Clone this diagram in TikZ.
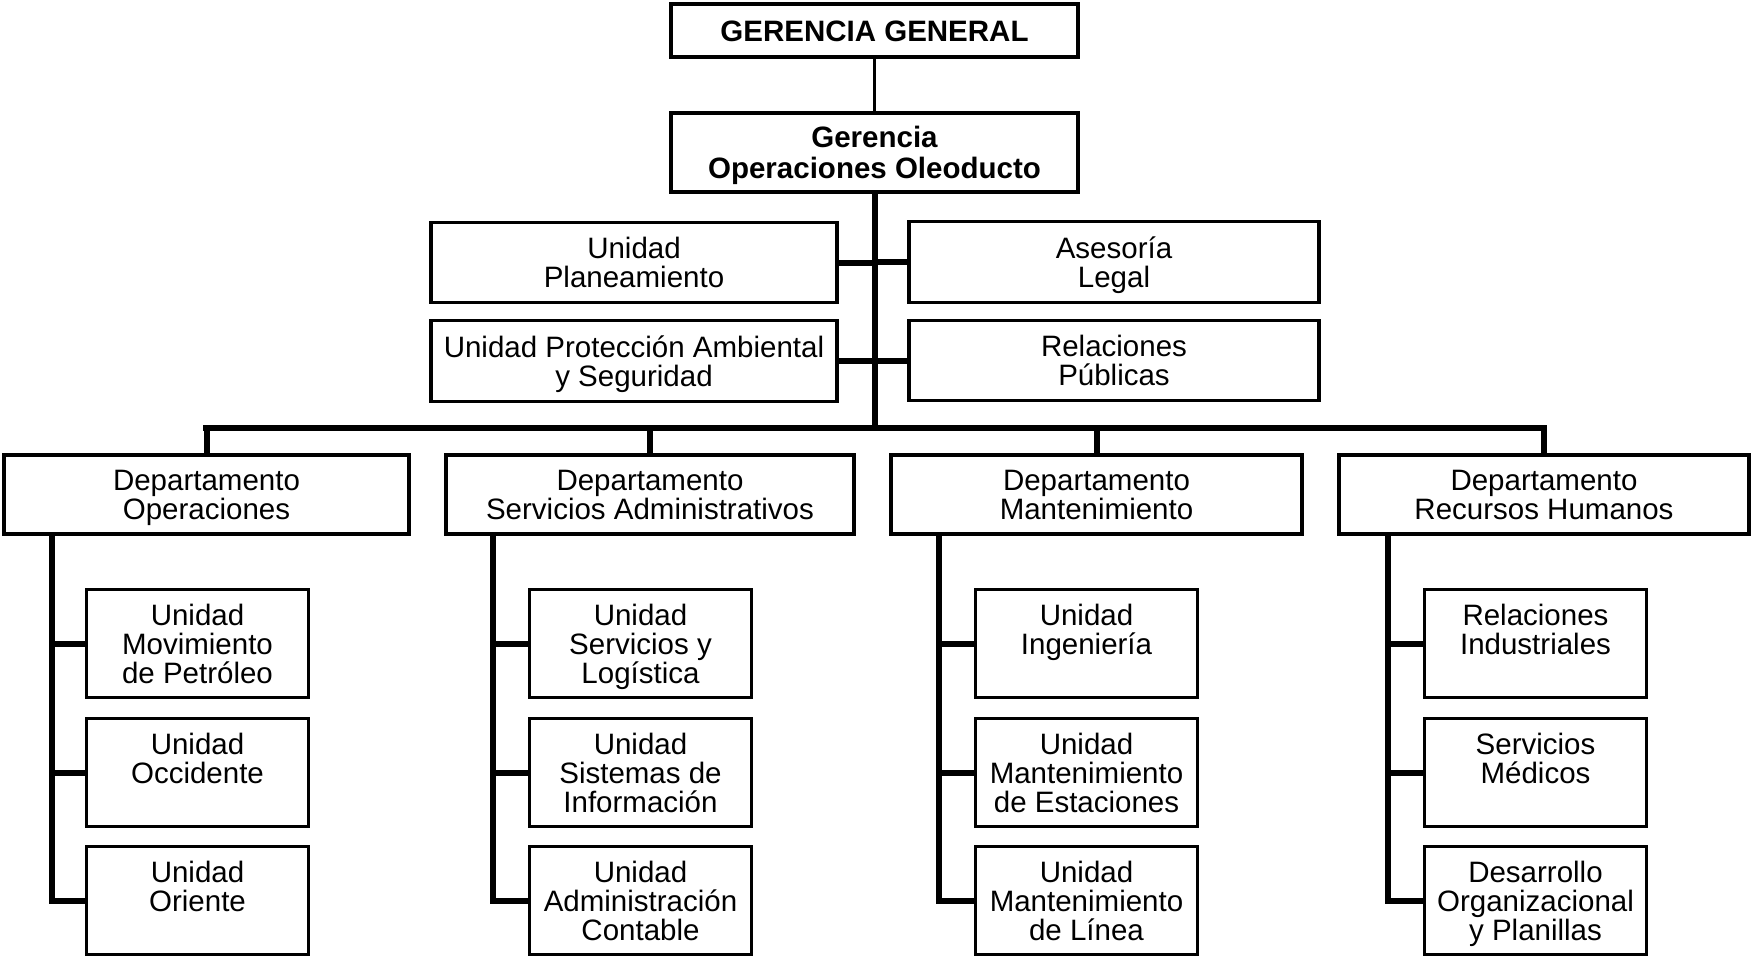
\documentclass[tikz,border=0pt]{standalone}
\usepackage{fontspec}
\setmainfont{Liberation Sans}
\begin{document}
\begin{tikzpicture}[x=0.5pt,y=-0.5pt,
  box/.style={draw, line width=1.7pt, inner sep=0pt, align=center,
    font=\fontsize{14.75pt}{14.5pt}\selectfont, text height=25.06pt, text depth=0pt},
  bbox/.style={box, font=\fontsize{14.75pt}{15.5pt}\selectfont\bfseries},
  subbox/.style={box, minimum width=111pt, minimum height=54pt, text height=39.56pt},
  subtwo/.style={subbox, text height=10.56pt},
  deptbox/.style={box, minimum height=39.5pt},
  conn/.style={line width=3pt},
  barline/.style={line width=3.2pt, line cap=rect},
  thinconn/.style={line width=1.3pt}
]
\useasboundingbox (0,0) rectangle (1753,960);
\fill[white] (0,0) rectangle (1753,960);

% top
\node[bbox, minimum width=203.5pt, minimum height=26.5pt, text height=10.56pt] (gg) at (874.5,30.5) {GERENCIA GENERAL};
\node[bbox, minimum width=203.5pt, minimum height=39.5pt, text height=26.06pt] (goo) at (874.5,152.5) {Gerencia\\Operaciones Oleoducto};

\node[box, minimum width=203pt, minimum height=40pt] (up) at (634,262.5) {Unidad\\Planeamiento};
\node[box, minimum width=205pt, minimum height=40.5pt] (al) at (1114,262) {Asesoría\\Legal};
\node[box, minimum width=203pt, minimum height=40.5pt] (upa) at (634,361) {Unidad Protección Ambiental\\y Seguridad};
\node[box, minimum width=205pt, minimum height=40pt] (rp) at (1114,360.5) {Relaciones\\Públicas};

% departments
\node[deptbox, minimum width=202.5pt] (dop) at (206.5,494.5) {Departamento\\Operaciones};
\node[deptbox, minimum width=204pt] (dsa) at (650,494.5) {Departamento\\Servicios Administrativos};
\node[deptbox, minimum width=205.5pt] (dma) at (1096.5,494.5) {Departamento\\Mantenimiento};
\node[deptbox, minimum width=205pt] (drh) at (1544,494.5) {Departamento\\Recursos Humanos};

% units
\node[subbox] (s11) at (197.5,643.5) {Unidad\\Movimiento\\de Petróleo};
\node[subtwo] (s12) at (197.5,772.5) {Unidad\\Occidente};
\node[subtwo] (s13) at (197.5,900.5) {Unidad\\Oriente};

\node[subbox] (s21) at (640.5,643.5) {Unidad\\Servicios y\\Logística};
\node[subbox] (s22) at (640.5,772.5) {Unidad\\Sistemas de\\Información};
\node[subbox] (s23) at (640.5,900.5) {Unidad\\Administración\\Contable};

\node[subtwo] (s31) at (1086.5,643.5) {Unidad\\Ingeniería};
\node[subbox] (s32) at (1086.5,772.5) {Unidad\\Mantenimiento\\de Estaciones};
\node[subbox] (s33) at (1086.5,900.5) {Unidad\\Mantenimiento\\de Línea};

\node[subtwo] (s41) at (1535.5,643.5) {Relaciones\\Industriales};
\node[subtwo] (s42) at (1535.5,772.5) {Servicios\\Médicos};
\node[subbox] (s43) at (1535.5,900.5) {Desarrollo\\Organizacional\\y Planillas};

% connectors top
\draw[thinconn] (gg.south) -- (goo.north);
\coordinate (bar) at (874.5,428);
\draw[conn] (goo.south) -- (bar);
\draw[conn] (up.east) -- (up.east -| goo.south);
\draw[conn] (al.west) -- (al.west -| goo.south);
\draw[conn] (upa.east) -- (upa.east -| goo.south);
\draw[conn] (rp.west) -- (rp.west -| goo.south);

\draw[barline] (dop.north |- bar) -- (drh.north |- bar);
\foreach \d in {dop,dsa,dma,drh}
  \draw[conn] (\d.north |- bar) -- (\d.north);

% department branches
\coordinate (v1) at (52,0);
\coordinate (v2) at (493,0);
\coordinate (v3) at (939,0);
\coordinate (v4) at (1388,0);
\foreach \v/\c/\dd in {v1/1/dop, v2/2/dsa, v3/3/dma, v4/4/drh} {
  \draw[conn] (\v |- \dd.south) -- (\v |- s\c3.west) -- (s\c3.west);
  \draw[conn] (\v |- s\c1.west) -- (s\c1.west);
  \draw[conn] (\v |- s\c2.west) -- (s\c2.west);
}
\end{tikzpicture}
\end{document}
